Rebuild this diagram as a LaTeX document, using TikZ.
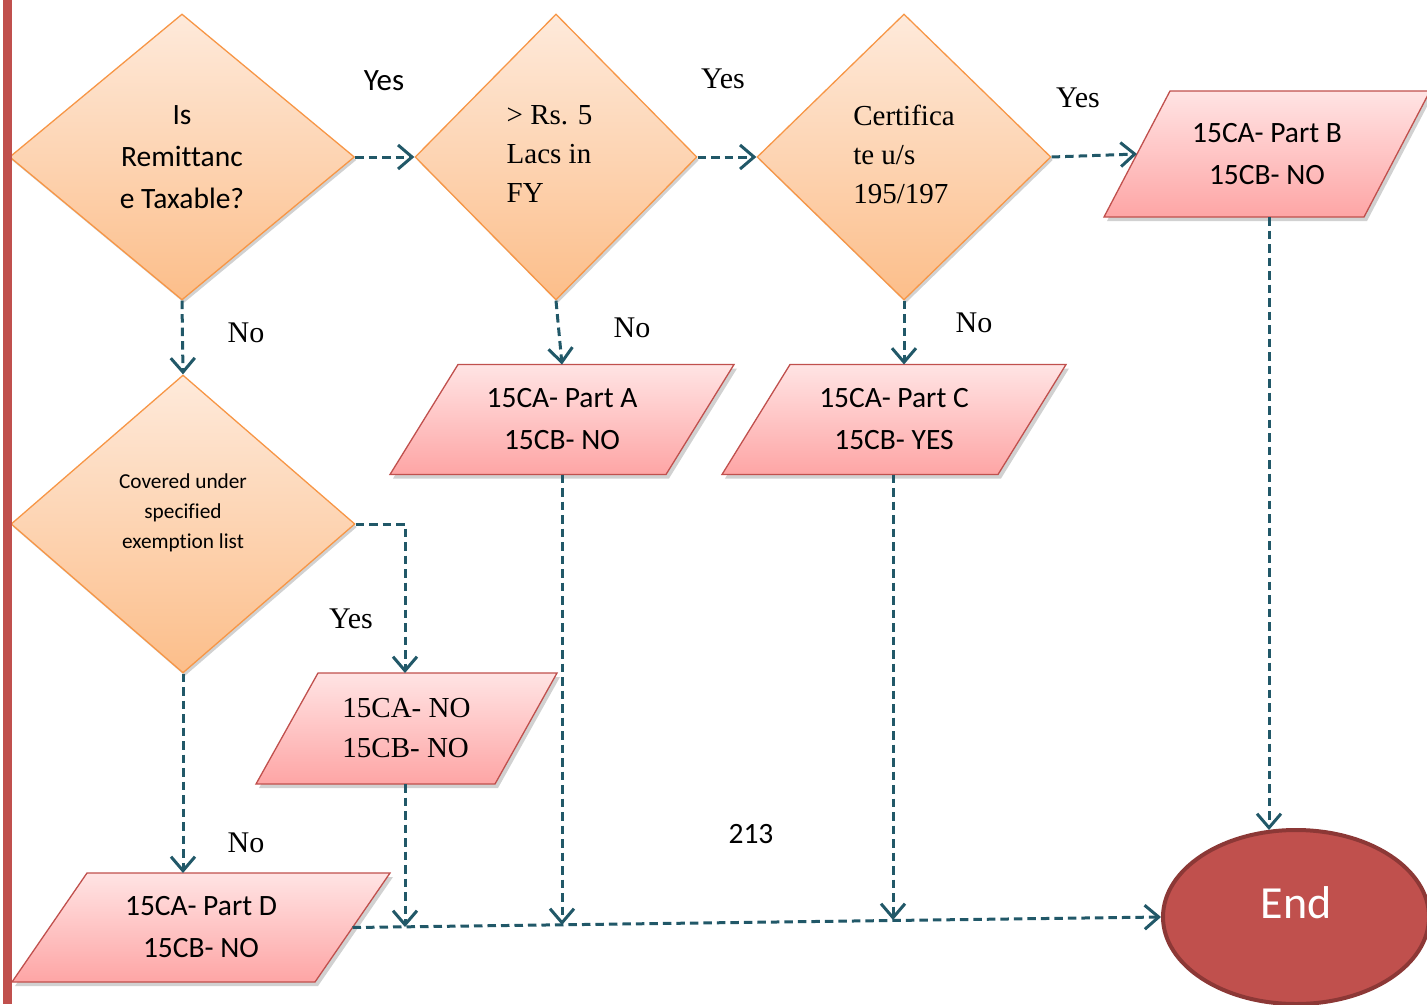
\documentclass[tikz,border=0pt]{standalone}
\usepackage{fontspec}
\setmainfont{Carlito}
\newfontfamily\calfont{Carlito}[Ligatures=NoCommon]
\newfontfamily\timfont{Liberation Serif}[Ligatures=NoCommon]
\usetikzlibrary{shapes.geometric,arrows.meta,shadows,calc,backgrounds}
\definecolor{dorange}{HTML}{F79646}
\definecolor{dtop}{HTML}{FEEADB}
\definecolor{dbot}{HTML}{FCBE8A}
\definecolor{pred}{HTML}{C0504D}
\definecolor{ptop}{HTML}{FFE4E4}
\definecolor{pbot}{HTML}{FEA5A5}
\definecolor{conncol}{HTML}{215868}
\definecolor{endborder}{HTML}{8C3836}
\newcommand\parashade[2]{%
  \path[parashape] ($(#1.north west)+(#2,0)$) -- ($(#1.north east)+(#2,0)$)
    -- ($(#1.south east)+(-#2,0)$) -- ($(#1.south west)+(-#2,0)$) -- cycle;}
\begin{document}
\begin{tikzpicture}[x=1pt,y=-1pt,
  decision/.style={diamond, draw=dorange, line width=1.3pt, top color=dtop, bottom color=dbot,
    inner sep=0pt, align=center,
    drop shadow={shadow xshift=2pt, shadow yshift=-3pt, opacity=0.18, fill=black}},
  parabody/.style={rectangle, inner sep=0pt, outer sep=0pt, align=center},
  parashape/.style={draw=pred, line width=1.3pt, top color=ptop, bottom color=pbot,
    drop shadow={shadow xshift=3pt, shadow yshift=-4pt, opacity=0.3, fill=black!60}},
  calib/.style={font=\calfont\fontsize{29.5}{42}\selectfont},
  timesf/.style={font=\timfont\fontsize{29}{39}\selectfont},
  timeslbl/.style={font=\timfont\fontsize{30}{36}\selectfont},
  lbl/.style={anchor=base, inner sep=0pt},
  conn/.style={draw=conncol, line width=3pt, dash pattern=on 8.5pt off 5pt,
    -{Straight Barb[length=14pt,width=24pt]}},
  endnode/.style={ellipse, fill=pred, draw=endborder, line width=4pt, text=white,
    font=\calfont\fontsize{46}{50}\selectfont}
]
\useasboundingbox (0,0) rectangle (1427,1004);

% decisions
\node[decision, calib, minimum width=345pt, minimum height=286pt] (D1) at (182,157)
  {Is\\Remittanc\\e Taxable?};
\node[decision, timesf, align=left, minimum width=282pt, minimum height=286pt] (D2) at (556,157)
  {> Rs. 5\\Lacs in\rule{14pt}{0pt}\\FY\rule[-5pt]{0pt}{0pt}};
\node[decision, timesf, align=left, minimum width=294pt, minimum height=286pt] (D3) at (904,157)
  {Certifica\\te u/s\\195/197\rule[-5pt]{0pt}{0pt}};
\node[decision, font=\calfont\fontsize{21.3}{30}\selectfont, minimum width=344pt, minimum height=298pt] (D4) at (183,524)
  {Covered under\\specified\\exemption list\rule[-26pt]{0pt}{0pt}};

% outputs (body nodes; slanted outline drawn on background layer)
\node[parabody, calib, minimum width=260pt, minimum height=126pt] (PB) at (1267,154) {15CA- Part B\\15CB- NO};
\node[parabody, calib, minimum width=276pt, minimum height=110pt] (PA) at (562,419.5) {15CA- Part A\\15CB- NO};
\node[parabody, calib, minimum width=276pt, minimum height=110pt] (PC) at (894,419.5) {15CA- Part C\\15CB- YES};
\node[parabody, align=left, font=\timfont\fontsize{29}{40}\selectfont,
  minimum width=239pt, minimum height=111pt] (PNO) at (406.5,728.5) {15CA- NO\\15CB- NO};
\node[parabody, calib, minimum width=303pt, minimum height=109pt] (PD) at (201,927.5) {15CA- Part D\\15CB- NO};

\begin{scope}[on background layer]
  \parashade{PB}{33}
  \parashade{PA}{34}
  \parashade{PC}{34}
  \parashade{PNO}{31}
  \parashade{PD}{37.5}
\end{scope}

\node[endnode, minimum width=266pt, minimum height=174pt] (End) at (1296,917) {End\rule[-28pt]{0pt}{0pt}};

% labels
\node[lbl, font=\calfont\fontsize{31}{36}\selectfont] (y1) at (384,90) {Yes};
\node[lbl, timeslbl] (y2) at (723,88) {Yes};
\node[lbl, timeslbl] (y3) at (1078,107) {Yes};
\node[lbl, timeslbl] (y4) at (351,628) {Yes};
\node[lbl, timeslbl] (n1) at (246,342) {No};
\node[lbl, timeslbl] (n2) at (632,337) {No};
\node[lbl, timeslbl] (n3) at (974,332) {No};
\node[lbl, timeslbl] (n4) at (246,852) {No};
\node[lbl, calib] (num) at (751,843) {213};

% junction points on the bottom line
\coordinate (j1) at (405,927);
\coordinate (j2) at (562,925);
\coordinate (j3) at (893,920);
\coordinate (j4) at (1269,830);

% connectors
\draw[conn] (D1.east) -- (D2.west);
\draw[conn] (D2.east) -- (D3.west);
\draw[conn] (D3.east) -- (PB.west);
\draw[conn] (D1.south) -- (D4.north);
\draw[conn] (D2.south) -- (PA.north);
\draw[conn] (D3.south) -- (PC.north -| D3.south);
\draw[conn] (D4.east) -| (PNO.north -| j1);
\draw[conn] (D4.south) -- (PD.north -| D4.south);
\draw[conn] (PNO.south -| j1) -- (j1);
\draw[conn] (PA.south -| j2) -- (j2);
\draw[conn] (PC.south -| j3) -- (j3);
\draw[conn] (PB.south -| j4) -- (j4);
\draw[conn] (PD.east) -- (End.west);

% left margin bar
\fill[pred] (3,0) rectangle (12,1004);
\end{tikzpicture}
\end{document}
